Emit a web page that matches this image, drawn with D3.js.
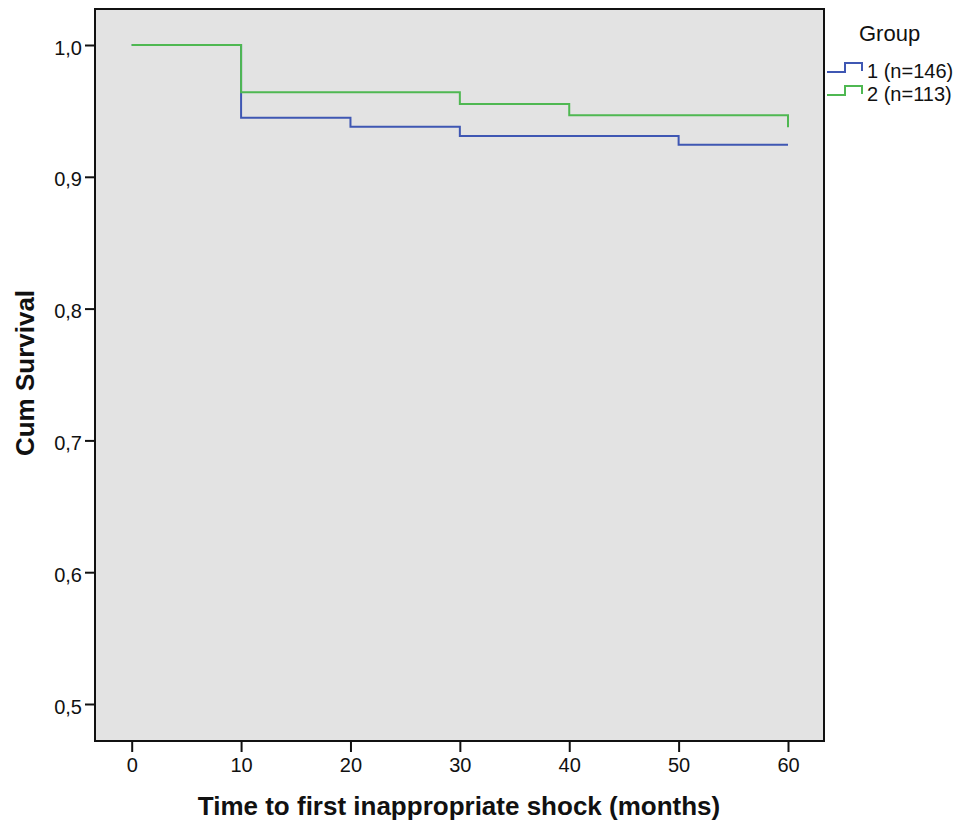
<!DOCTYPE html>
<html>
<head>
<meta charset="utf-8">
<script src="https://cdn.jsdelivr.net/npm/d3@7"></script>
<style>
body { margin: 0; background: #fff; }
text { font-family: "Liberation Sans", Arial, sans-serif; fill: #111; }
</style>
</head>
<body>
<div id="chart"></div>
<script>
// Kaplan-Meier steps
var group1Times = [0, 10, 20, 30, 50, 60];
var group1Surv  = [1.0, 0.9448, 0.938, 0.931, 0.9244, 0.9244];
var group2Times = [0, 10, 30, 40, 60];
var group2Surv  = [1.0, 0.9641, 0.9552, 0.9467, 0.9376];
var groupNames  = ["1 (n=146)", "2 (n=113)"];
var groupColors = ["#3f57b3", "#4fb852"];
var xTicks = [0, 10, 20, 30, 40, 50, 60];
var yTicks = [0.5, 0.6, 0.7, 0.8, 0.9, 1.0];

var width = 965, height = 823;
var plotL = 95, plotT = 9, plotR = 824, plotB = 741;

var svg = d3.select("#chart").append("svg")
	.attr("width", width)
	.attr("height", height);

var x = d3.scaleLinear().domain([0, 60]).range([131.7, 788]);
var y = d3.scaleLinear().domain([0.5, 1.0]).range([704, 45]);

svg.append("rect")
	.attr("x", plotL).attr("y", plotT)
	.attr("width", plotR - plotL).attr("height", plotB - plotT)
	.attr("fill", "#e3e3e3")
	.attr("stroke", "#111").attr("stroke-width", 2);

var fmt = function(d) { return d3.format(".1f")(d).replace(".", ","); };

var yAxis = svg.append("g")
	.attr("transform", "translate(" + plotL + ",0)")
	.call(d3.axisLeft(y).tickValues(yTicks).tickFormat(fmt).tickSize(10).tickPadding(3));
yAxis.select(".domain").remove();
yAxis.attr("font-size", null).attr("font-family", null);
yAxis.selectAll("line").attr("stroke", "#111").attr("stroke-width", 2);
yAxis.selectAll("text").style("font-size", "20px").attr("fill", "#111")
	.attr("dy", "0.45em");

var xAxis = svg.append("g")
	.attr("transform", "translate(0," + plotB + ")")
	.call(d3.axisBottom(x).tickValues(xTicks).tickSize(11).tickPadding(6));
xAxis.select(".domain").remove();
xAxis.attr("font-size", null).attr("font-family", null);
xAxis.selectAll("line").attr("stroke", "#111").attr("stroke-width", 2);
xAxis.selectAll("text").style("font-size", "20px").attr("fill", "#111");

var line = d3.line()
	.x(function(d) { return x(d[0]); })
	.y(function(d) { return y(d[1]); })
	.curve(d3.curveStepAfter);

var series = [d3.zip(group1Times, group1Surv), d3.zip(group2Times, group2Surv)];
series.forEach(function(s, i) {
	svg.append("path")
		.datum(s)
		.attr("d", line)
		.attr("fill", "none")
		.attr("stroke", groupColors[i])
		.attr("stroke-width", 2);
});

// axis titles
svg.append("text")
	.attr("transform", "translate(34,373) rotate(-90)")
	.attr("text-anchor", "middle")
	.style("font-size", "26px").style("font-weight", "bold")
	.text("Cum Survival");

svg.append("text")
	.attr("x", 459).attr("y", 815)
	.attr("text-anchor", "middle")
	.style("font-size", "26px").style("font-weight", "bold")
	.text("Time to first inappropriate shock (months)");

// legend
svg.append("text")
	.attr("x", 859).attr("y", 41)
	.style("font-size", "22px")
	.text("Group");

groupNames.forEach(function(name, i) {
	var ly = 72 + i * 23;
	var g = svg.append("g");
	g.append("path")
		.attr("d", "M827," + ly + "H845V" + (ly - 9) + "H862V" + (ly - 1))
		.attr("fill", "none")
		.attr("stroke", groupColors[i])
		.attr("stroke-width", 2);
	g.append("text")
		.attr("x", 867).attr("y", ly + 6)
		.style("font-size", "20px")
		.text(name);
});
</script>
</body>
</html>
